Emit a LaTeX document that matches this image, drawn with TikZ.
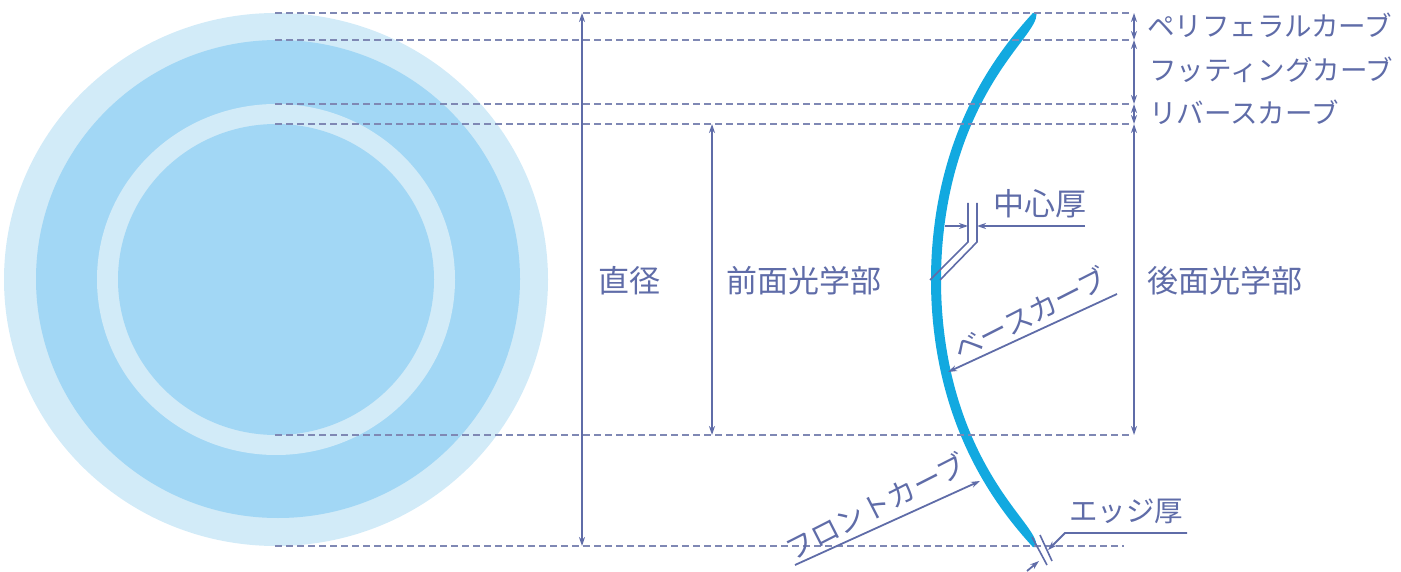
\documentclass[tikz,border=0pt]{standalone}
\usepackage{fontspec}
\setmainfont{Noto Sans CJK JP}
\usetikzlibrary{arrows.meta}
\definecolor{ink}{HTML}{5F6CA8}
\definecolor{dashc}{HTML}{7F88B4}
\definecolor{pale}{HTML}{D2EBF8}
\definecolor{mid}{HTML}{A2D7F5}
\definecolor{lens}{HTML}{12A9E0}
\tikzset{
  guide/.style={dashc,line width=1.4pt,dash pattern=on 7pt off 4pt},
  dim/.style={ink,line width=1.8pt,{Stealth[length=9pt,width=6pt]}-{Stealth[length=9pt,width=6pt]}},
  lead/.style={ink,line width=1.8pt,-{Stealth[length=9pt,width=6pt]}},
  plainl/.style={ink,line width=1.6pt},
  lab/.style={text=ink,inner sep=0pt,font=\fontsize{27.5}{30}\selectfont},
  labe/.style={text=ink,inner sep=0pt,font=\fontsize{28.5}{30}\selectfont},
  labb/.style={text=ink,inner sep=0pt,font=\fontsize{31}{34}\selectfont}
}
\begin{document}
\begin{tikzpicture}[x=1pt,y=-1pt]
\useasboundingbox (0,0) rectangle (1401,572);
% lens plan view
\fill[pale] (276,279.5) ellipse [x radius=272,y radius=266.5];
\fill[mid] (278,279) ellipse [x radius=242,y radius=239];
\fill[pale] (276,279.5) ellipse [x radius=179,y radius=175.5];
\fill[mid] (276,279.5) ellipse [x radius=158,y radius=155.5];
% lens section
\fill[lens] plot[domain=-267:267,samples=90,smooth] ({931+11.3*(\x/100)^2+0.42*(\x/100)^4},{280+\x})
 -- plot[domain=267:-267,samples=90,smooth] ({931+11.3*(\x/100)^2+0.42*(\x/100)^4+(10+5*(abs(\x)/267)^4)*(0.25+0.75*(1-(abs(\x)/267)^24))},{280+\x}) -- cycle;
% guide lines
\coordinate (gA) at (275,13);  \coordinate (gAe) at (1132,13);
\coordinate (gB) at (275,40);  \coordinate (gBe) at (1132,40);
\coordinate (gC) at (275,104); \coordinate (gCe) at (1132,104);
\coordinate (gD) at (275,124); \coordinate (gDe) at (1132,124);
\coordinate (gE) at (275,435); \coordinate (gEe) at (1132,435);
\coordinate (gF) at (275,546); \coordinate (gFe) at (1124,546);
\foreach \a/\b in {gA/gAe,gB/gBe,gC/gCe,gD/gDe,gE/gEe,gF/gFe} \draw[guide] (\a) -- (\b);
% dimension arrows
\coordinate (dT) at (582,13); \coordinate (dB) at (582,546);
\draw[dim] (dT) -- (dB);
\coordinate (fT) at (712,124); \coordinate (fB) at (712,435);
\draw[dim] (fT) -- (fB);
\coordinate (r0) at (1134,13); \coordinate (r1) at (1134,40); \coordinate (r2) at (1134,104); \coordinate (r3) at (1134,124); \coordinate (r4) at (1134,435);
\draw[dim] (r0) -- (r1);
\draw[dim] (r1) -- (r2);
\draw[dim] (r2) -- (r3);
\draw[dim] (r3) -- (r4);
% centre thickness
\coordinate (c1a) at (968,203); \coordinate (c1b) at (968,242); \coordinate (c1c) at (930,280);
\coordinate (c2a) at (977,203); \coordinate (c2b) at (977,242); \coordinate (c2c) at (940,280);
\draw[plainl] (c1a) -- (c1b) -- (c1c);
\draw[plainl] (c2a) -- (c2b) -- (c2c);
\coordinate (cl) at (945,226); \coordinate (cli) at (968,226);
\coordinate (crs) at (1085,226); \coordinate (cri) at (977,226);
\draw[lead] (cl) -- (cli);
\draw[lead] (crs) -- (cri);
% base curve leader
\coordinate (bs) at (1117,294); \coordinate (be) at (948,372);
\draw[lead] (bs) -- (be);
% front curve leader
\coordinate (fs) at (795,565); \coordinate (fe) at (980,481);
\draw[lead] (fs) -- (fe);
% edge thickness
\coordinate (e1a) at (1032,537); \coordinate (e1b) at (1047,565);
\coordinate (e2a) at (1040,535); \coordinate (e2b) at (1052,561);
\draw[plainl] (e1a) -- (e1b);
\draw[plainl] (e2a) -- (e2b);
\coordinate (el) at (1187,533); \coordinate (em) at (1065,533); \coordinate (et) at (1048,550);
\draw[lead] (el) -- (em) -- (et);
\coordinate (ebs) at (1027,571); \coordinate (ebe) at (1039,561);
\draw[lead] (ebs) -- (ebe);
% labels
\node[lab,anchor=west] (tPeri) at (1147,25) {ペリフェラルカーブ};
\node[lab,anchor=west] (tFit) at (1149,70) {フッティングカーブ};
\node[lab,anchor=west] (tRev) at (1149,112) {リバースカーブ};
\node[labb,anchor=west] (tDia) at (598,281) {直径};
\node[labb,anchor=west] (tFront) at (726,281) {前面光学部};
\node[labb,anchor=west] (tBack) at (1147,281) {後面光学部};
\node[labb,anchor=west] (tCen) at (993,204) {中心厚};
\node[labe,anchor=west] (tEdge) at (1069,511) {エッジ厚};
\node[labe,rotate=27] (tBase) at (1030,313) {ベースカーブ};
\node[labe,rotate=27] (tFC) at (875,506) {フロントカーブ};
\end{tikzpicture}
\end{document}
